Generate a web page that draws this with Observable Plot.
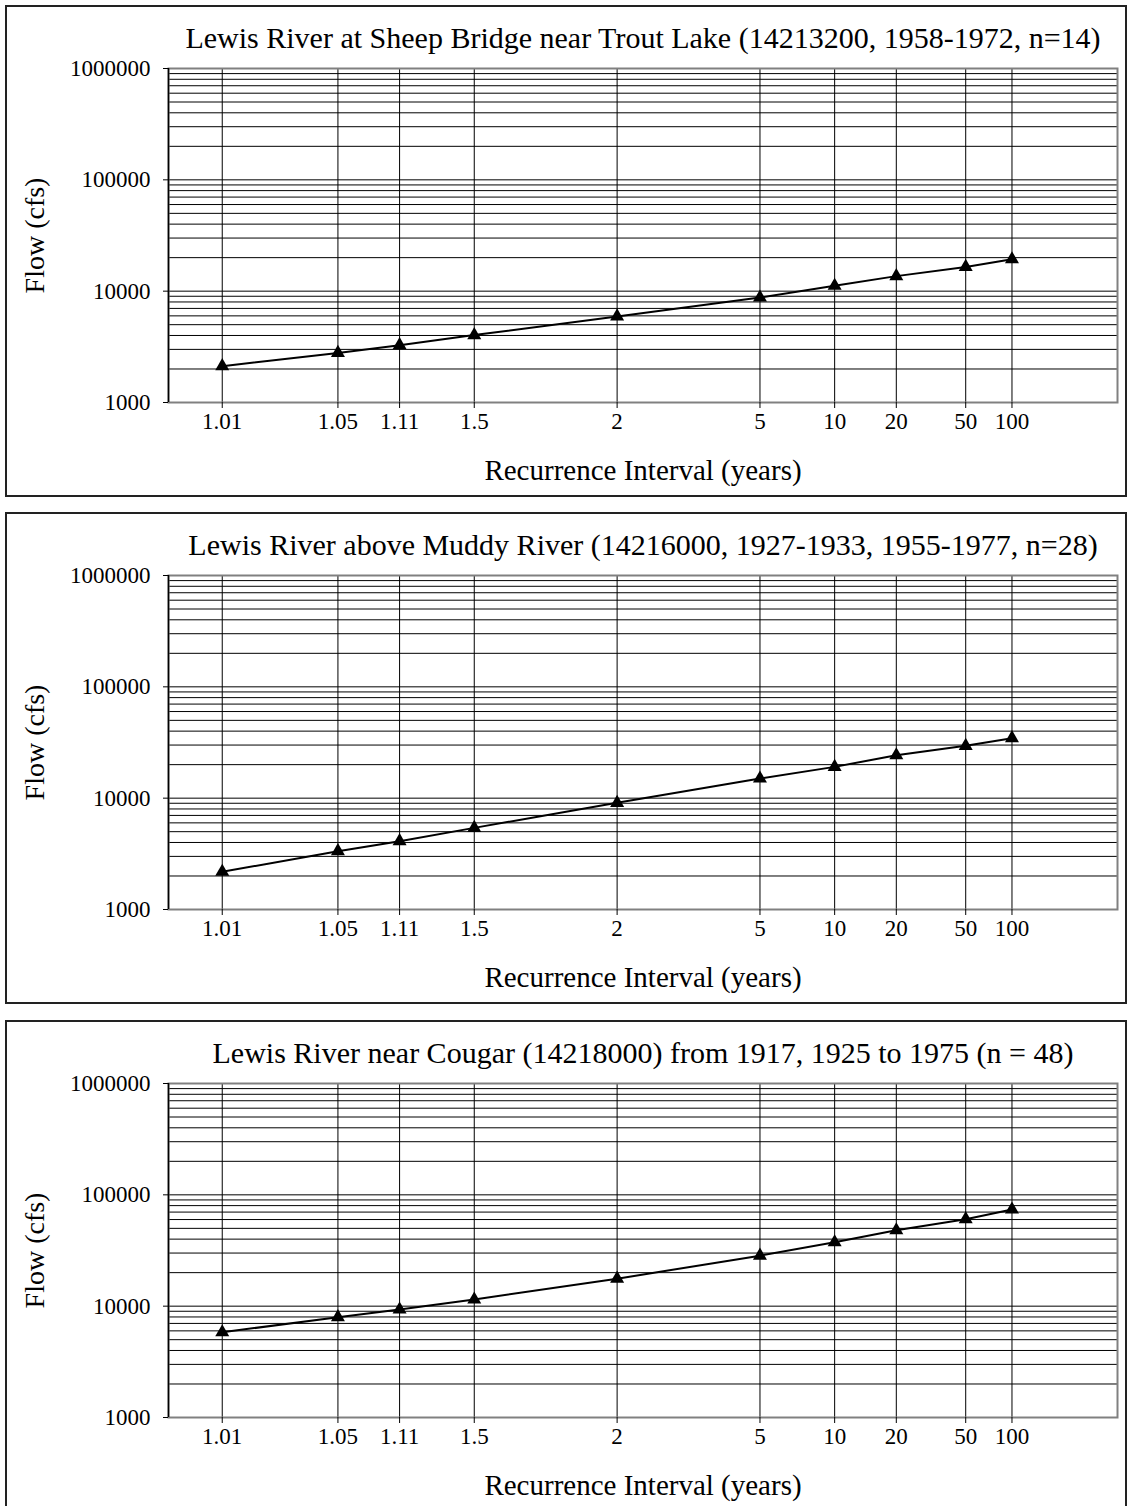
<!DOCTYPE html>
<html>
<head>
<meta charset="utf-8">
<script src="https://cdn.jsdelivr.net/npm/d3@7"></script>
<script src="https://cdn.jsdelivr.net/npm/@observablehq/plot@0.6"></script>
<style>
  body { margin: 0; background: #fff; width: 1128px; height: 1506px; overflow: hidden; position: relative; }
  .panel { position: absolute; left: 5px; width: 1118px; height: 488px; border: 2px solid #222; background: #fff; }
  .panel svg { display: block; }
</style>
</head>
<body>
<div class="panel" id="p0" style="top:5px"></div>
<div class="panel" id="p1" style="top:512px"></div>
<div class="panel" id="p2" style="top:1020px"></div>
<script>
// ---- data ----
const titles = [
  "Lewis River at Sheep Bridge near Trout Lake (14213200, 1958-1972, n=14)",
  "Lewis River above Muddy River (14216000, 1927-1933, 1955-1977, n=28)",
  "Lewis River near Cougar (14218000) from 1917, 1925 to 1975 (n = 48)"
];
const recurrenceLabels = ["1.01", "1.05", "1.11", "1.5", "2", "5", "10", "20", "50", "100"];
// annual exceedance probability at which each label sits on the probability axis
const exceedanceProb = [0.99, 0.95, 0.90, 0.80, 0.50, 0.20, 0.10, 0.05, 0.02, 0.01];
const flowSheepBridge = [2120, 2790, 3275, 4030, 5930, 8770, 11170, 13650, 16500, 19360];
const flowMuddyRiver  = [2180, 3340, 4110, 5410, 9080, 15030, 19100, 24300, 29500, 34600];
const flowCougar      = [5830, 7960, 9330, 11480, 17660, 28400, 37500, 48100, 60400, 73800];
const yTickValues = [1000, 10000, 100000, 1000000];
const yLabel = "Flow (cfs)";
const xLabel = "Recurrence Interval (years)";

// inverse standard normal CDF (Acklam)
function qnorm(p) {
  const a = [-3.969683028665376e+01, 2.209460984245205e+02, -2.759285104469687e+02, 1.383577518672690e+02, -3.066479806614716e+01, 2.506628277459239e+00];
  const b = [-5.447609879822406e+01, 1.615858368580409e+02, -1.556989798598866e+02, 6.680131188771972e+01, -1.328068155288572e+01];
  const c = [-7.784894002430293e-03, -3.223964580411365e-01, -2.400758277161838e+00, -2.549732539343734e+00, 4.374664141464968e+00, 2.938163982698783e+00];
  const d = [7.784695709041462e-03, 3.224671290700398e-01, 2.445134137142996e+00, 3.754408661907416e+00];
  const plow = 0.02425, phigh = 1 - plow;
  let q, r;
  if (p < plow) {
    q = Math.sqrt(-2 * Math.log(p));
    return (((((c[0]*q+c[1])*q+c[2])*q+c[3])*q+c[4])*q+c[5]) / ((((d[0]*q+d[1])*q+d[2])*q+d[3])*q+1);
  } else if (p <= phigh) {
    q = p - 0.5; r = q * q;
    return (((((a[0]*r+a[1])*r+a[2])*r+a[3])*r+a[4])*r+a[5])*q / (((((b[0]*r+b[1])*r+b[2])*r+b[3])*r+b[4])*r+1);
  } else {
    q = Math.sqrt(-2 * Math.log(1 - p));
    return -(((((c[0]*q+c[1])*q+c[2])*q+c[3])*q+c[4])*q+c[5]) / ((((d[0]*q+d[1])*q+d[2])*q+d[3])*q+1);
  }
}

const zTicks = exceedanceProb.map(p => qnorm(1 - p));
const labelByZ = new Map(zTicks.map((z, i) => [z, recurrenceLabels[i]]));
const yGrid = [];
for (const k of [1000, 10000, 100000]) for (let m = 1; m <= 9; m++) yGrid.push(m * k);
yGrid.push(1000000);

const series = [flowSheepBridge, flowMuddyRiver, flowCougar];
const font = "'Liberation Serif', 'Times New Roman', serif";

series.forEach((flows, i) => {
  const data = flows.map((f, j) => ({z: zTicks[j], flow: f}));
  const chart = Plot.plot({
    width: 1118,
    height: 488,
    marginTop: 61,
    marginBottom: 93,
    marginLeft: 161,
    marginRight: 8,
    style: {fontFamily: font, color: "#000", background: "#fff", overflow: "visible"},
    x: {type: "linear", domain: [-2.643, 2.948]},
    y: {type: "log", domain: [1000, 1000000]},
    marks: [
      Plot.ruleY(yGrid, {stroke: "#000", strokeWidth: 1}),
      Plot.ruleX(zTicks, {stroke: "#000", strokeWidth: 1}),
      Plot.frame({stroke: "#808080", strokeWidth: 2}),
      Plot.axisY(yTickValues, {tickSize: 5, tickPadding: 13, fontSize: 23, tickFormat: d => String(d), label: null, stroke: "#000"}),
      Plot.ruleX([-2.643], {stroke: "#000", strokeWidth: 1.5}),
      Plot.axisX(zTicks, {tickSize: 6, tickPadding: 4, fontSize: 23, tickFormat: d => labelByZ.get(d), label: null, stroke: "#000"}),
      Plot.line(data, {x: "z", y: "flow", stroke: "#000", strokeWidth: 2}),
      Plot.dot(data, {x: "z", y: "flow", symbol: "triangle", r: 5.2, fill: "#000", stroke: "none"}),
      Plot.text([titles[i]], {text: d => d, frameAnchor: "top", dy: -30, fontSize: 30, lineAnchor: "middle", fill: "#000"}),
      Plot.text([xLabel], {text: d => d, frameAnchor: "bottom", dy: 68, fontSize: 29, lineAnchor: "middle", fill: "#000"}),
      Plot.text([yLabel], {text: d => d, frameAnchor: "left", dx: -133, rotate: -90, fontSize: 28, lineAnchor: "middle", textAnchor: "middle", fill: "#000"})
    ]
  });
  document.getElementById("p" + i).appendChild(chart);
});
</script>
</body>
</html>
